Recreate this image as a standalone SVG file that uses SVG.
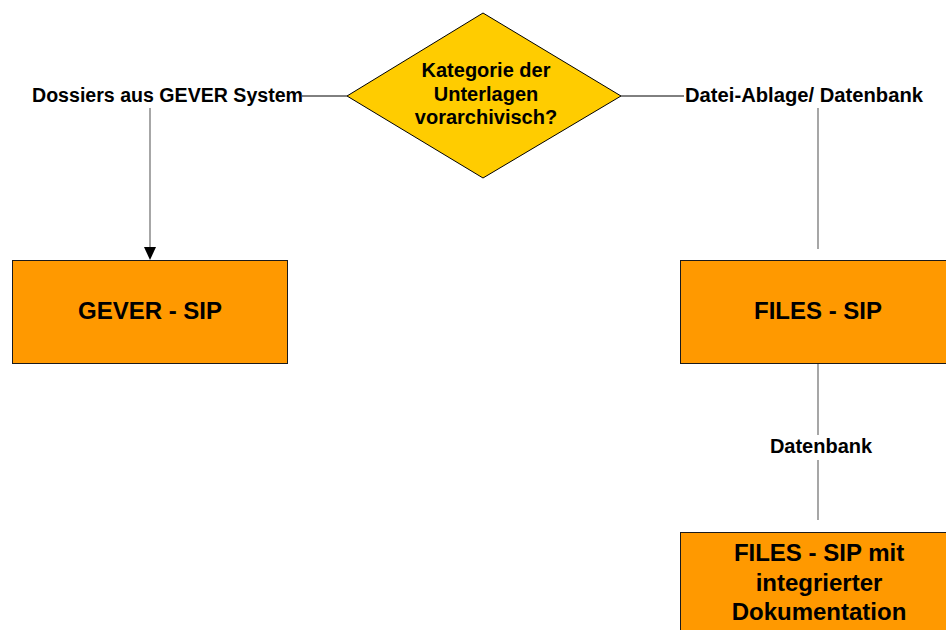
<svg xmlns="http://www.w3.org/2000/svg" width="946" height="630" viewBox="0 0 946 630">
<style>
text{font-family:"Liberation Sans",Arial,sans-serif;font-weight:bold;fill:#000;text-anchor:middle}
.lbl{font-size:20px}
.big{font-size:24px}
.box{fill:#FF9900;stroke:#1a1a1a;stroke-width:1}
.hl{stroke:#000;stroke-width:1;fill:none}
.vl{stroke:#777;stroke-width:1.3;fill:none}
</style>
<g id="connectors">
<line class="hl" x1="302" y1="96" x2="347" y2="96"/>
<line class="hl" x1="621" y1="96" x2="684" y2="96"/>
<line class="vl" x1="150" y1="108" x2="150" y2="247"/>
<path d="M144,247 L156,247 L150,260 Z" fill="#000"/>
<line class="vl" x1="818" y1="108" x2="818" y2="249"/>
<line class="vl" x1="818" y1="363" x2="818" y2="435"/>
<line class="vl" x1="818" y1="460" x2="818" y2="520"/>
<text class="lbl" x="167.5" y="102" textLength="271" lengthAdjust="spacingAndGlyphs">Dossiers aus GEVER System</text>
<text class="lbl" x="804" y="102" textLength="238" lengthAdjust="spacingAndGlyphs">Datei-Ablage/ Datenbank</text>
<text class="lbl" x="821" y="453">Datenbank</text>
</g>
<g id="decision">
<polygon points="483,13 621,96 483,178 347,96" fill="#FFCC00" stroke="#000" stroke-width="1"/>
<text class="lbl" x="486" y="77">Kategorie der</text>
<text class="lbl" x="486" y="101">Unterlagen</text>
<text class="lbl" x="486" y="124">vorarchivisch?</text>
</g>
<g id="gever-sip">
<rect class="box" x="12.5" y="260.5" width="275" height="103"/>
<text class="big" x="150" y="319">GEVER - SIP</text>
</g>
<g id="files-sip">
<rect class="box" x="680.5" y="260.5" width="270" height="103"/>
<text class="big" x="818" y="319">FILES - SIP</text>
</g>
<g id="files-sip-doku">
<rect class="box" x="680.5" y="532.5" width="270" height="110"/>
<text class="big" x="819" y="561">FILES - SIP mit</text>
<text class="big" x="819" y="591">integrierter</text>
<text class="big" x="819" y="620">Dokumentation</text>
</g>
</svg>
